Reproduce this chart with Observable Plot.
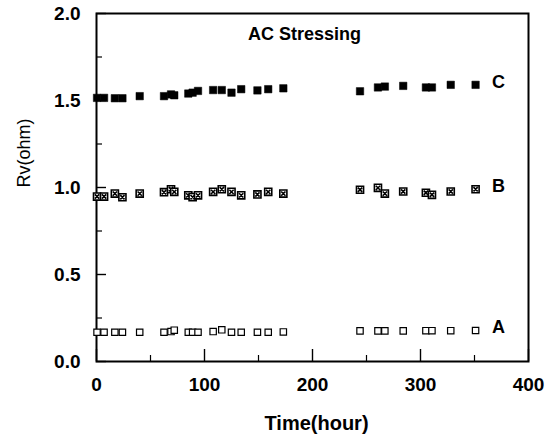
<!DOCTYPE html>
<html>
<head>
<meta charset="utf-8">
<script src="https://cdn.jsdelivr.net/npm/d3@7"></script>
<script src="https://cdn.jsdelivr.net/npm/@observablehq/plot@0.6"></script>
<style>
  html, body { margin: 0; padding: 0; background: #fff; }
</style>
</head>
<body>
<div id="chart"></div>
<script>
// ---- data ----
const timeHours = [0.5, 7, 17, 24, 40, 62.5, 69, 72, 85, 89, 94, 108, 116, 125, 134, 149, 159, 173,
                   244, 260.6, 267, 284, 305, 310.6, 328, 351];
const rvA = [0.168, 0.168, 0.168, 0.168, 0.168, 0.168, 0.172, 0.18, 0.168, 0.168, 0.168, 0.172, 0.182, 0.168, 0.168, 0.168, 0.168, 0.17,
             0.176, 0.176, 0.176, 0.176, 0.177, 0.177, 0.177, 0.178];
const rvB = [0.948, 0.948, 0.965, 0.944, 0.965, 0.973, 0.99, 0.975, 0.955, 0.945, 0.955, 0.975, 0.99, 0.975, 0.955, 0.96, 0.975, 0.965,
             0.987, 0.998, 0.965, 0.977, 0.97, 0.958, 0.977, 0.99];
const rvC = [1.515, 1.515, 1.513, 1.513, 1.525, 1.525, 1.535, 1.53, 1.54, 1.545, 1.555, 1.56, 1.56, 1.545, 1.565, 1.558, 1.565, 1.57,
             1.553, 1.575, 1.58, 1.584, 1.575, 1.575, 1.59, 1.59];
const seriesNames = ["A", "B", "C"];
const xTicksMajor = [0, 100, 200, 300, 400];
const xTicksMinor = [50, 150, 250, 350];
const yTicksMajor = [0, 0.5, 1.0, 1.5, 2.0];
const yTicksMinor = [0.25, 0.75, 1.25, 1.75];
const titleText = "AC Stressing";
const xTitle = "Time(hour)";
const yTitle = "Rv(ohm)";

// ---- build tables ----
const seriesValues = [rvA, rvB, rvC];
const rows = seriesValues.flatMap((vals, s) => vals.map((v, i) => ({series: seriesNames[s], t: timeHours[i], rv: v})));
const labelRows = seriesNames.map((name, s) => ({series: name, rv: seriesValues[s][seriesValues[s].length - 1]}));

// ---- custom symbols ----
const squareOpen = {draw(ctx, size) { const h = Math.sqrt(size) / 2; ctx.rect(-h, -h, 2 * h, 2 * h); }};
const squareCross = {draw(ctx, size) {
  const h = Math.sqrt(size) / 2;
  ctx.rect(-h, -h, 2 * h, 2 * h);
  const k = h * 0.6;
  ctx.moveTo(-k, -k); ctx.lineTo(k, k);
  ctx.moveTo(k, -k); ctx.lineTo(-k, k);
}};

const tickFont = "'Liberation Sans', Arial, Helvetica, sans-serif";
const textFont = "'Liberation Sans', Arial, Helvetica, sans-serif";

const chart = Plot.plot({
  width: 550,
  height: 440,
  marginLeft: 96,
  marginRight: 22,
  marginTop: 13,
  marginBottom: 79,
  style: {background: "#fff", color: "#000", fontFamily: textFont},
  x: {domain: [0, 400], label: null},
  y: {domain: [0, 2], label: null},
  marks: [
    // minor ticks
    Plot.axisX(xTicksMinor, {anchor: "bottom", tickSize: -6, tickFormat: () => "", label: null, strokeWidth: 1.2}),
    Plot.axisY(yTicksMinor, {anchor: "left", tickSize: -6, tickFormat: () => "", label: null, strokeWidth: 1.2}),
    // major ticks + labels
    Plot.axisX(xTicksMajor, {anchor: "bottom", tickSize: -12, tickPadding: 28, tickFormat: d3.format("d"),
      label: null, strokeWidth: 1.4, fontSize: 19, fontWeight: "bold", fontFamily: tickFont}),
    Plot.axisY(yTicksMajor, {anchor: "left", tickSize: -10, tickPadding: 26, tickFormat: d3.format(".1f"),
      label: null, strokeWidth: 1.4, fontSize: 19, fontWeight: "bold", fontFamily: tickFont}),
    Plot.frame({strokeWidth: 2}),
    // series A: open squares
    Plot.dot(rows.filter(d => d.series === "A"), {x: "t", y: "rv", symbol: squareOpen, r: 3.6,
      fill: "white", stroke: "black", strokeWidth: 1.2}),
    // series B: crossed squares
    Plot.dot(rows.filter(d => d.series === "B"), {x: "t", y: "rv", symbol: squareCross, r: 4,
      fill: "white", stroke: "black", strokeWidth: 1.6}),
    // series C: filled squares
    Plot.dot(rows.filter(d => d.series === "C"), {x: "t", y: "rv", symbol: squareOpen, r: 4.2,
      fill: "black", stroke: "black", strokeWidth: 0.5}),
    // series letters
    Plot.text(labelRows, {y: "rv", text: "series", frameAnchor: "right", dx: -30, dy: -3,
      fontSize: 18, fontWeight: "bold", fontFamily: textFont, textAnchor: "middle"}),
    // titles
    Plot.text([titleText], {frameAnchor: "top", dx: -8, dy: 21, lineAnchor: "middle",
      fontSize: 18, fontWeight: "bold", fontFamily: textFont}),
    Plot.text([xTitle], {frameAnchor: "bottom", dx: 4, dy: 62, lineAnchor: "middle",
      fontSize: 20, fontWeight: "bold", fontFamily: tickFont}),
    Plot.text([yTitle], {frameAnchor: "left", dx: -72, rotate: -90, lineAnchor: "middle",
      fontSize: 18, fontFamily: textFont})
  ]
});
document.getElementById("chart").appendChild(chart);
</script>
</body>
</html>
